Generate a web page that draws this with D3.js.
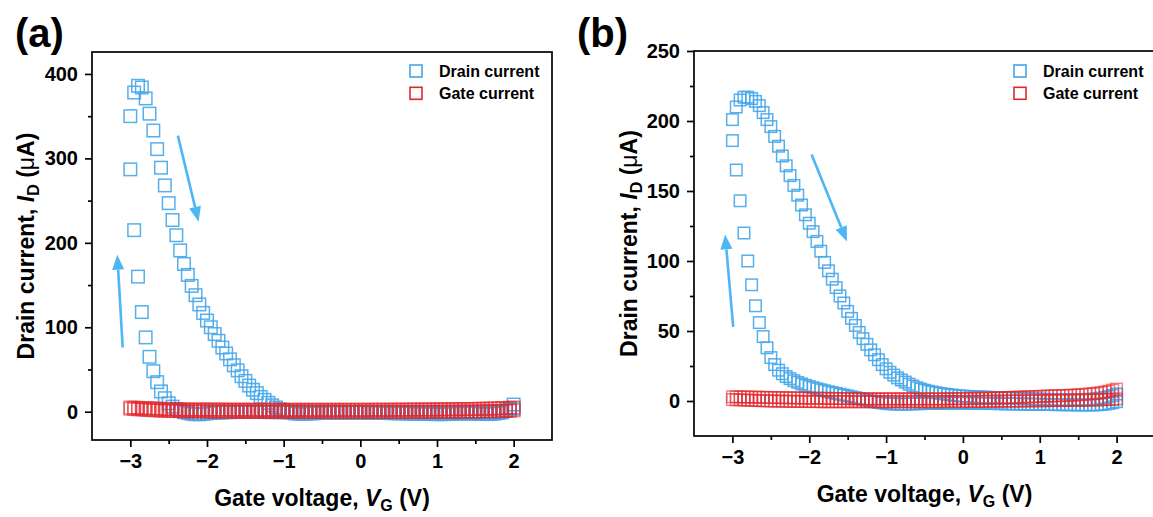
<!DOCTYPE html>
<html>
<head>
<meta charset="utf-8">
<script src="https://cdn.jsdelivr.net/npm/d3@7"></script>
<style>
  body { margin: 0; background: #fff; }
  svg { display: block; font-family: 'Liberation Sans', Arial, sans-serif; }
</style>
</head>
<body>
<div id="chart"></div>
<script>
// gate voltage sweep points (V), 0.05 V step
const voltage = [-3.00,-2.95,-2.90,-2.85,-2.80,-2.75,-2.70,-2.65,-2.60,-2.55,
  -2.50,-2.45,-2.40,-2.35,-2.30,-2.25,-2.20,-2.15,-2.10,-2.05,
  -2.00,-1.95,-1.90,-1.85,-1.80,-1.75,-1.70,-1.65,-1.60,-1.55,
  -1.50,-1.45,-1.40,-1.35,-1.30,-1.25,-1.20,-1.15,-1.10,-1.05,
  -1.00,-0.95,-0.90,-0.85,-0.80,-0.75,-0.70,-0.65,-0.60,-0.55,
  -0.50,-0.45,-0.40,-0.35,-0.30,-0.25,-0.20,-0.15,-0.10,-0.05,
  0.00,0.05,0.10,0.15,0.20,0.25,0.30,0.35,0.40,0.45,
  0.50,0.55,0.60,0.65,0.70,0.75,0.80,0.85,0.90,0.95,
  1.00,1.05,1.10,1.15,1.20,1.25,1.30,1.35,1.40,1.45,
  1.50,1.55,1.60,1.65,1.70,1.75,1.80,1.85,1.90,1.95,
  2.00]

// (a) drain current, µA
const aDrainFwd = [287,215,160,118,88,65,48,35,24,16,
  10,6,3,1,-0.5,-1.5,-2.5,-3,-3,-2.5,
  -2,-1.5,-1.2,-1,-0.8,-0.6,-0.5,-0.4,-0.3,-0.3,
  -0.2,-0.2,-0.2,-0.3,-0.3,-0.4,-0.4,-0.5,-0.5,-0.6,
  -0.6,-0.7,-0.7,-0.8,-0.8,-0.8,-0.9,-0.9,-0.9,-1,
  -1,-1,-1,-1,-1,-1,-1,-1,-1,-1,
  -1,-1,-1.1,-1.2,-1.3,-1.4,-1.5,-1.6,-1.7,-1.8,
  -1.9,-2,-2.1,-2.2,-2.3,-2.4,-2.5,-2.6,-2.7,-2.8,
  -2.9,-2.9,-2.8,-2.7,-2.5,-2.3,-2.1,-2,-2,-2.1,
  -2.3,-2.5,-2.7,-2.8,-2.6,-2.2,-1.6,-0.8,1,4,
  8.5]
const aDrainRev = [350,378,386,384,371,353,333,311,289,268,
  247,227,209,191,175,162,149,138,127,117,
  108,100,92,84,76,69,62,55,49,42,
  36.5,31,26,22,17.5,14,10.5,7.5,5,3,
  1.5,0,-1,-2,-2.5,-2.5,-2.2,-2,-1.8,-1.6,
  -1.4,-1.3,-1.2,-1.1,-1,-1,-0.9,-0.9,-0.8,-0.8,
  -0.8,-0.8,-0.8,-0.9,-0.9,-0.9,-1,-1,-1,-1,
  -1,-1,-1,-1,-1,-1,-1,-1,-0.9,-0.9,
  -0.8,-0.8,-0.7,-0.7,-0.6,-0.6,-0.5,-0.5,-0.5,-0.5,
  -0.4,-0.4,-0.3,-0.3,-0.2,0,0.3,0.7,1.3,2.2,
  3.5]
// (a) gate current, µA
const aGateFwd = [5,4.8,4.6,4.4,4.2,4,3.8,3.6,3.4,3.2,
  3,2.9,2.8,2.7,2.6,2.5,2.5,2.5,2.5,2.5,
  2.5,2.5,2.4,2.4,2.4,2.4,2.3,2.3,2.3,2.3,
  2.3,2.3,2.3,2.2,2.2,2.2,2.2,2.2,2.2,2.2,
  2.2,2.2,2.2,2.2,2.2,2.2,2.2,2.2,2.2,2.2,
  2.2,2.2,2.2,2.2,2.2,2.2,2.2,2.2,2.2,2.2,
  2.2,2.2,2.2,2.3,2.3,2.3,2.3,2.3,2.3,2.4,
  2.4,2.4,2.4,2.5,2.5,2.5,2.6,2.6,2.6,2.7,
  2.7,2.8,2.8,2.9,2.9,3,3,3.1,3.1,3.2,
  3.3,3.4,3.5,3.6,3.7,3.8,4,4.2,4.4,4.7,
  5]
const aGateRev = [3.5,3.2,2.9,2.6,2.3,2,1.8,1.6,1.4,1.2,
  1,0.9,0.8,0.7,0.6,0.5,0.5,0.4,0.4,0.3,
  0.3,0.3,0.2,0.2,0.2,0.2,0.1,0.1,0.1,0.1,
  0.1,0,0,0,0,0,0,0,0,0,
  0,0,0,0,0,0,-0.1,-0.1,-0.1,-0.1,
  -0.1,-0.1,-0.1,-0.2,-0.2,-0.2,-0.2,-0.2,-0.2,-0.2,
  -0.2,-0.2,-0.2,-0.2,-0.2,-0.2,-0.2,-0.2,-0.2,-0.2,
  -0.2,-0.2,-0.2,-0.2,-0.2,-0.2,-0.1,-0.1,-0.1,-0.1,
  -0.1,-0.1,0,0,0,0,0.1,0.1,0.1,0.2,
  0.2,0.3,0.3,0.4,0.5,0.6,0.7,0.8,1,1.2,
  1.5]

// (b) drain current, µA
const bDrainFwd = [186,165,143,120,100,83,68,56,46,38,
  31,26,22,19.5,17.5,16,14.5,13.3,12.2,11.2,
  10.3,9.5,8.7,8,7.3,6.6,6,5.4,4.8,4.2,
  3.6,3,2.4,1.8,1.2,0.6,0,-0.5,-1,-1.4,
  -1.7,-2,-2.1,-2.2,-2.2,-2.2,-2.1,-2,-2,-1.9,
  -1.8,-1.7,-1.7,-1.6,-1.6,-1.5,-1.5,-1.5,-1.5,-1.5,
  -1.5,-1.5,-1.5,-1.6,-1.6,-1.7,-1.7,-1.8,-1.8,-1.9,
  -1.9,-2,-2,-2.1,-2.1,-2.2,-2.2,-2.3,-2.3,-2.4,
  -2.4,-2.5,-2.5,-2.5,-2.6,-2.6,-2.6,-2.7,-2.7,-2.7,
  -2.8,-2.8,-2.8,-2.8,-2.8,-2.7,-2.5,-2.2,-1.8,-1.2,
  -0.5]
const bDrainRev = [201,210,215,217,217,216,214,211,206,201,
  196,189,182,175,168,161,154,147,140,133,
  127,121,114,107,99,93,87,81,75,70,
  64,59,54,49,44.5,40.5,36.5,33,29.5,26,
  23,20.5,18.5,16.5,15,13.5,12,10.7,9.5,8.5,
  7.7,7,6.4,5.9,5.4,5,4.6,4.3,4,3.7,
  3.5,3.3,3.1,3,2.9,2.8,2.7,2.6,2.5,2.4,
  2.3,2.2,2.1,2,1.9,1.8,1.7,1.6,1.5,1.4,
  1.3,1.2,1.1,1,1,0.9,0.9,0.9,0.9,0.9,
  1,1,1.1,1.2,1.4,1.6,2,2.5,3.2,4,
  5]
// (b) gate current, µA
const bGateFwd = [3,3,2.9,2.9,2.8,2.8,2.7,2.7,2.6,2.6,
  2.5,2.5,2.4,2.4,2.3,2.3,2.2,2.2,2.1,2.1,
  2,2,2,1.9,1.9,1.9,1.8,1.8,1.8,1.7,
  1.7,1.7,1.6,1.6,1.6,1.5,1.5,1.5,1.5,1.5,
  1.5,1.5,1.5,1.5,1.5,1.5,1.5,1.5,1.5,1.5,
  1.5,1.5,1.5,1.5,1.5,1.5,1.6,1.6,1.6,1.7,
  1.7,1.7,1.8,1.8,1.9,1.9,2,2,2.1,2.2,
  2.3,2.4,2.5,2.6,2.7,2.8,2.9,3,3.1,3.2,
  3.3,3.4,3.5,3.6,3.7,3.8,3.9,4,4.1,4.2,
  4.4,4.6,4.8,5,5.3,5.6,6,6.5,7,7.8,
  8.5]
const bGateRev = [1,0.9,0.8,0.7,0.6,0.5,0.4,0.3,0.2,0.1,
  0,0,-0.1,-0.1,-0.2,-0.2,-0.3,-0.3,-0.3,-0.4,
  -0.4,-0.4,-0.4,-0.5,-0.5,-0.5,-0.5,-0.5,-0.5,-0.5,
  -0.5,-0.5,-0.5,-0.5,-0.5,-0.5,-0.5,-0.5,-0.5,-0.5,
  -0.5,-0.5,-0.5,-0.5,-0.5,-0.5,-0.5,-0.5,-0.5,-0.5,
  -0.5,-0.5,-0.5,-0.5,-0.5,-0.4,-0.4,-0.4,-0.4,-0.4,
  -0.4,-0.4,-0.3,-0.3,-0.3,-0.3,-0.2,-0.2,-0.2,-0.2,
  -0.1,-0.1,-0.1,0,0,0,0.1,0.1,0.1,0.2,
  0.2,0.2,0.3,0.3,0.3,0.4,0.4,0.4,0.5,0.5,
  0.5,0.6,0.6,0.7,0.7,0.8,0.9,1,1.1,1.3,
  1.5]

// axis ticks
const xMajor = [-3, -2, -1, 0, 1, 2]
const xMinor = [-2.5, -1.5, -0.5, 0.5, 1.5]
const aYMajor = [0, 100, 200, 300, 400]
const aYMinor = [50, 150, 250, 350]
const bYMajor = [0, 50, 100, 150, 200, 250]
const bYMinor = [25, 75, 125, 175, 225]
const legendNames = ['Drain current', 'Gate current']

// sweep direction arrows [V, µA]
const aArrows = [[[-3.10, 76], [-3.17, 186]], [[-2.38, 327], [-2.11, 225]]]
const bArrows = [[[-2.99, 53], [-3.095, 119]], [[-1.97, 176], [-1.51, 114]]]

const width = 1153
const height = 517
const blue = '#45a6ea'
const red = '#e2262b'
const arrowBlue = '#4db6f4'

const svg = d3.select('#chart')
  .append('svg')
  .attr('width', width)
  .attr('height', height)

svg.append('defs').append('clipPath').attr('id', 'page')
  .append('rect').attr('width', width).attr('height', height)

const panels = [
  {
    tag: '(a)', tagX: 15,
    left: 92, right: 552, top: 52, bottom: 440,
    yDomain: [-33.5, 426], yMajor: aYMajor, yMinor: aYMinor,
    size: 12.5,
    drain: [aDrainFwd, aDrainRev], gate: [aGateFwd, aGateRev],
    arrows: aArrows, legendX: 416, yLabelX: 34
  },
  {
    tag: '(b)', tagX: 577,
    left: 694, right: 1155, top: 51, bottom: 436,
    yDomain: [-25, 250], yMajor: bYMajor, yMinor: bYMinor,
    size: 11.5,
    drain: [bDrainFwd, bDrainRev], gate: [bGateFwd, bGateRev],
    arrows: bArrows, legendX: 1020, yLabelX: 637
  }
]

const fmt = d3.format('d')

panels.forEach(p => {
  const x = d3.scaleLinear().domain([-3.5, 2.5]).range([p.left, p.right])
  const y = d3.scaleLinear().domain(p.yDomain).range([p.bottom, p.top])
  const g = svg.append('g').attr('clip-path', 'url(#page)')

  // markers
  const squares = (vals, color, op) => g.append('g')
    .selectAll('rect')
    .data(vals)
    .join('rect')
    .attr('x', (d, i) => x(voltage[i]) - p.size / 2)
    .attr('y', d => y(d) - p.size / 2)
    .attr('width', p.size)
    .attr('height', p.size)
    .attr('fill', 'none')
    .attr('stroke', color)
    .attr('stroke-opacity', op)
    .attr('stroke-width', 1.5)

  p.drain.forEach(s => squares(s, blue, 0.9))
  p.gate.forEach(s => squares(s, red, 0.55))

  // arrows
  p.arrows.forEach(([a, b]) => {
    const x0 = x(a[0]), y0 = y(a[1]), x1 = x(b[0]), y1 = y(b[1])
    const ang = Math.atan2(y1 - y0, x1 - x0)
    const len = 15, half = 6
    const bx = x1 - len * Math.cos(ang), by = y1 - len * Math.sin(ang)
    g.append('line')
      .attr('x1', x0).attr('y1', y0).attr('x2', bx).attr('y2', by)
      .attr('stroke', arrowBlue).attr('stroke-width', 2.6)
    g.append('path')
      .attr('d', `M${x1},${y1}L${bx - half * Math.sin(ang)},${by + half * Math.cos(ang)}L${bx + half * Math.sin(ang)},${by - half * Math.cos(ang)}Z`)
      .attr('fill', arrowBlue)
  })

  // frame
  g.append('rect')
    .attr('x', p.left).attr('y', p.top)
    .attr('width', p.right - p.left).attr('height', p.bottom - p.top)
    .attr('fill', 'none').attr('stroke', '#000').attr('stroke-width', 1.7)

  // axes
  const styleAxis = a => {
    a.select('.domain').remove()
    a.selectAll('line').attr('stroke', '#000').attr('stroke-width', 1.7)
    a.selectAll('text').attr('font-size', 20).attr('font-weight', 'bold').attr('fill', '#000')
  }
  g.append('g').attr('transform', `translate(0,${p.bottom})`)
    .call(d3.axisBottom(x).tickValues(xMajor).tickSize(7).tickPadding(7).tickFormat(fmt))
    .call(styleAxis)
  g.append('g').attr('transform', `translate(0,${p.bottom})`)
    .call(d3.axisBottom(x).tickValues(xMinor).tickSize(4).tickFormat(''))
    .call(styleAxis)
  g.append('g').attr('transform', `translate(${p.left},0)`)
    .call(d3.axisLeft(y).tickValues(p.yMajor).tickSize(7).tickPadding(7).tickFormat(fmt))
    .call(styleAxis)
  g.append('g').attr('transform', `translate(${p.left},0)`)
    .call(d3.axisLeft(y).tickValues(p.yMinor).tickSize(4).tickFormat(''))
    .call(styleAxis)

  // axis titles
  const xt = g.append('text')
    .attr('x', (p.left + p.right) / 2).attr('y', p.bottom + 66)
    .attr('text-anchor', 'middle').attr('font-size', 23).attr('font-weight', 'bold')
  xt.append('tspan').text('Gate voltage, ')
  xt.append('tspan').attr('font-style', 'italic').text('V')
  xt.append('tspan').attr('font-size', 16).attr('dy', 5).text('G')
  xt.append('tspan').attr('dy', -5).text(' (V)')

  const yt = g.append('text')
    .attr('transform', `translate(${p.yLabelX},${(p.top + p.bottom) / 2}) rotate(-90)`)
    .attr('text-anchor', 'middle').attr('font-size', 23).attr('font-weight', 'bold')
  yt.append('tspan').text('Drain current, ')
  yt.append('tspan').attr('font-style', 'italic').text('I')
  yt.append('tspan').attr('font-size', 16).attr('dy', 5).text('D')
  yt.append('tspan').attr('dy', -5).text(' (')
  yt.append('tspan').attr('font-weight', 'normal').text('μ')
  yt.append('tspan').text('A)')

  // legend
  legendNames.forEach((name, i) => {
    const cy = 71 + i * 22.3
    g.append('rect')
      .attr('x', p.legendX - 6).attr('y', cy - 6).attr('width', 12).attr('height', 12)
      .attr('fill', 'none').attr('stroke', i ? red : blue).attr('stroke-width', 1.6)
    g.append('text')
      .attr('x', p.legendX + 23).attr('y', cy + 5.5)
      .attr('font-size', 16).attr('font-weight', 'bold').text(name)
  })

  // panel tag
  svg.append('text')
    .attr('x', p.tagX).attr('y', 47)
    .attr('font-size', 40).attr('font-weight', 'bold').text(p.tag)
})
</script>
</body>
</html>
